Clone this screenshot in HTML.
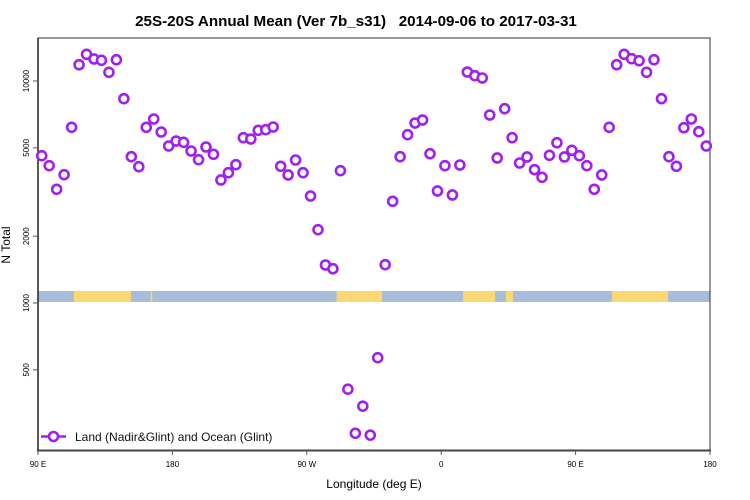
<!DOCTYPE html>
<html><head><meta charset="utf-8"><style>
body{margin:0;background:#fff}
svg{display:block;font-family:"Liberation Sans",sans-serif}
</style></head><body>
<svg id="chart" width="750" height="500">
<text x="356" y="26" text-anchor="middle" font-size="15.2" font-weight="bold">25S-20S Annual Mean (Ver 7b_s31)&#160;&#160; 2014-09-06 to 2017-03-31</text>
<g id="strip"></g>
<rect x="38" y="38" width="672" height="412" fill="none" stroke="#333" stroke-width="1"/>
<line x1="38" y1="38" x2="38" y2="451" stroke="#222" stroke-width="1.5"/>
<line x1="37" y1="450.5" x2="711" y2="450.5" stroke="#444" stroke-width="2"/>
<g id="yticks"></g><g id="xticks"></g><g id="points"></g>
<text x="0" y="0" transform="translate(10,245) rotate(-90)" text-anchor="middle" font-size="12">N Total</text>
<text x="374" y="488" text-anchor="middle" font-size="12">Longitude (deg E)</text>
<g>
<line x1="41" y1="436.5" x2="66" y2="436.5" stroke="#a020f0" stroke-width="2.5"/>
<circle cx="53.5" cy="436.5" r="4.5" fill="#fff" stroke="#a020f0" stroke-width="2.6"/>
<text x="75" y="441" font-size="12" fill="#111">Land (Nadir&amp;Glint) and Ocean (Glint)</text>
</g>
</svg>
<script>
const lonStart = 92.5, lonStep = 5;
const nTotal = [4608,4155,3253,3784,6185,11840,13190,12565,12394,10944,12469,8322,4560,4111,6185,6743,5892,5096,5366,5294,4838,4421,5043,4675,3582,3863,4198,5553,5478,5996,6034,6205,4129,3773,4407,3863,3034,2139,1483,1427,3945,409,259,343,254,567,1488,2872,4560,5729,6467,6671,4704,3196,4155,3066,4184,10977,10565,10316,7027,4500,7502,5553,4272,4547,3987,3683,4627,5272,4547,4873,4608,4155,3253,3773,6185,11840,13190,12605,12345,10944,12469,8322,4560,4129,6160,6743,5910,5096];
const yTicks = [500,1000,2000,5000,10000];
const xTickLon = [90,180,270,360,450,540];
const xTickLabels = ["90 E","180","90 W","0","90 E","180"];
const landLonStart = [114,165.5,290,374.6,403.4,474.4];
const landLonEnd = [152.3,166.5,320.4,396,408.1,511.9];
const ns="http://www.w3.org/2000/svg";
const X = lon => 38 + (lon-90)*672/450;
const Y = v => 81 + (4 - Math.log10(v))*222;
function mk(tag,attrs,parent){const e=document.createElementNS(ns,tag);for(const k in attrs)e.setAttribute(k,attrs[k]);parent.appendChild(e);return e;}
const strip=document.getElementById('strip');
mk('rect',{x:38,y:291,width:672,height:11,fill:'#a6bddb'},strip);
landLonStart.forEach((s,i)=>{
  const r=mk('rect',{x:X(s),y:291,width:X(landLonEnd[i])-X(s),height:11,fill:'#fdd872'},strip);
  
  
});
const yt=document.getElementById('yticks');
yTicks.forEach(v=>{
  const y=Y(v);
  const l=mk('line',{x1:33,x2:38,y1:y,y2:y,stroke:'#555'},yt);
  
  
  const t=mk('text',{x:0,y:0,transform:`translate(29,${y}) rotate(-90)`,'text-anchor':'middle','font-size':8},yt);
  t.textContent=v;
  
  
});
const xt=document.getElementById('xticks');
xTickLon.forEach((lon,i)=>{
  const x=X(lon);
  const l=mk('line',{x1:x,x2:x,y1:450,y2:455,stroke:'#555'},xt);
  
  
  const t=mk('text',{x:x,y:467,'text-anchor':'middle','font-size':8},xt);
  t.textContent=xTickLabels[i];
  
  
});
const pts=document.getElementById('points');
nTotal.forEach((v,i)=>{
  const c=mk('circle',{cx:X(lonStart+i*lonStep),cy:Y(v),r:4.5,fill:'#fff',stroke:'#a020f0','stroke-width':2.6},pts);
  
  
});
</script>
</body></html>
